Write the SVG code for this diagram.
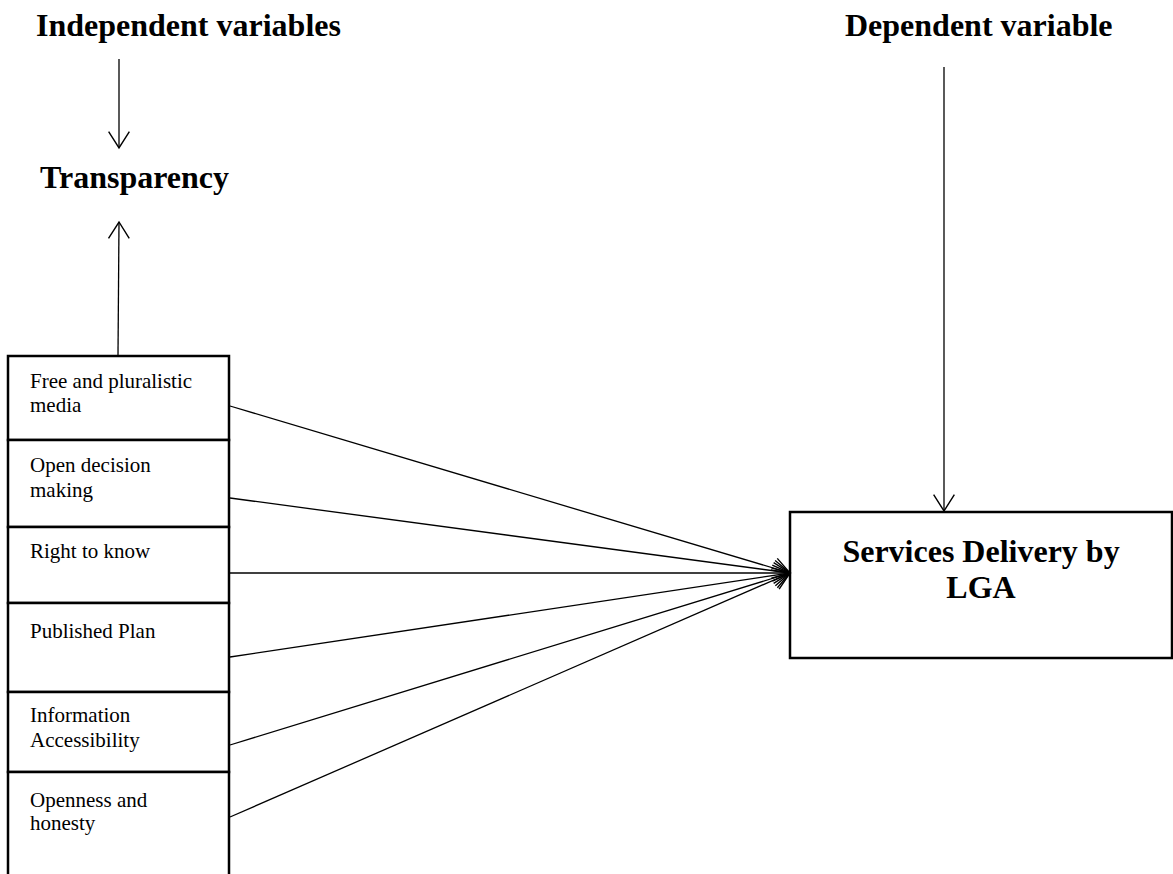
<svg xmlns="http://www.w3.org/2000/svg" width="1173" height="874" viewBox="0 0 1173 874">
<style>
.title{font-family:"Liberation Serif","Times New Roman",serif;font-weight:bold;font-size:32px;fill:#000}
.lbl{font-family:"Liberation Serif","Times New Roman",serif;font-size:21px;fill:#000}
.box{fill:#fff;stroke:#000;stroke-width:2.5}
.conn{stroke:#000;stroke-width:1.3;fill:none}
</style>
<defs>
<marker id="arr" markerUnits="userSpaceOnUse" markerWidth="20" markerHeight="24" refX="0" refY="0" viewBox="-16 -11 18 22" orient="auto">
<path d="M-15,-9.5 L0,0 L-15,9.5" fill="none" stroke="#000" stroke-width="1.3"/>
</marker>
</defs>
<rect width="1173" height="874" fill="#fff"/>
<g id="title-independent"><text class="title" x="36" y="36">Independent variables</text></g>
<g id="title-dependent"><text class="title" x="845" y="36">Dependent variable</text></g>
<g id="transparency"><text class="title" x="40" y="188">Transparency</text></g>
<g id="indicators">
<g id="n1"><rect class="box" x="8" y="356" width="221" height="84"/><text class="lbl" x="30" y="388">Free and pluralistic</text><text class="lbl" x="30" y="412">media</text></g>
<g id="n2"><rect class="box" x="8" y="440" width="221" height="87"/><text class="lbl" x="30" y="472">Open decision</text><text class="lbl" x="30" y="497">making</text></g>
<g id="n3"><rect class="box" x="8" y="527" width="221" height="76"/><text class="lbl" x="30" y="558">Right to know</text></g>
<g id="n4"><rect class="box" x="8" y="603" width="221" height="89"/><text class="lbl" x="30" y="638">Published Plan</text></g>
<g id="n5"><rect class="box" x="8" y="692" width="221" height="80"/><text class="lbl" x="30" y="722">Information</text><text class="lbl" x="30" y="747">Accessibility</text></g>
<g id="n6"><path d="M8,880 V772 H229 V880" class="box"/><text class="lbl" x="30" y="807">Openness and</text><text class="lbl" x="30" y="830">honesty</text></g>
</g>
<g id="services"><rect class="box" x="790" y="512" width="382" height="146"/><text class="title" x="981" y="562" text-anchor="middle">Services Delivery by</text><text class="title" x="981" y="598" text-anchor="middle">LGA</text></g>
<g id="connectors">
<line class="conn" x1="119" y1="59" x2="119" y2="148" marker-end="url(#arr)"/>
<line class="conn" x1="118" y1="355" x2="119" y2="222" marker-end="url(#arr)"/>
<line class="conn" x1="944" y1="67" x2="944" y2="511" marker-end="url(#arr)"/>
<line class="conn" x1="230" y1="406" x2="790" y2="573" marker-end="url(#arr)"/>
<line class="conn" x1="230" y1="498" x2="790" y2="573" marker-end="url(#arr)"/>
<line class="conn" x1="230" y1="573" x2="790" y2="573" marker-end="url(#arr)"/>
<line class="conn" x1="230" y1="657" x2="790" y2="573" marker-end="url(#arr)"/>
<line class="conn" x1="230" y1="745" x2="790" y2="573" marker-end="url(#arr)"/>
<line class="conn" x1="230" y1="817" x2="790" y2="573" marker-end="url(#arr)"/>
</g>
</svg>
